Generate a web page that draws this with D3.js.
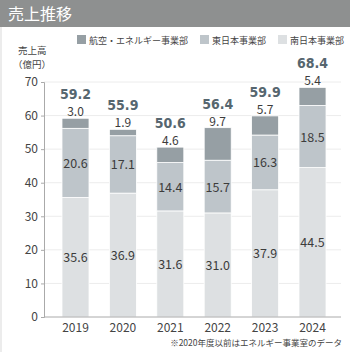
<!DOCTYPE html>
<html>
<head>
<meta charset="utf-8">
<script src="https://cdn.jsdelivr.net/npm/d3@7"></script>
<style>
  body { margin: 0; background: #fff; }
  svg text { font-family: "Noto Sans CJK JP", "Noto Sans", sans-serif; }
</style>
</head>
<body>
<div id="chart"></div>
<script>
// data
const years = ["2019", "2020", "2021", "2022", "2023", "2024"];
const south = [35.6, 36.9, 31.6, 31.0, 37.9, 44.5];   // 南日本事業部
const east = [20.6, 17.1, 14.4, 15.7, 16.3, 18.5];    // 東日本事業部
const aviation = [3.0, 1.9, 4.6, 9.7, 5.7, 5.4];      // 航空・エネルギー事業部
const totals = [59.2, 55.9, 50.6, 56.4, 59.9, 68.4];
const seriesNames = ["航空・エネルギー事業部", "東日本事業部", "南日本事業部"];
const yTicks = [0, 10, 20, 30, 40, 50, 60, 70];

const W = 350, H = 352, M = {t: 82, r: 10, b: 35, l: 44};
const svg = d3.select("#chart").append("svg")
  .attr("width", W)
  .attr("height", H);

// title bar
svg.append("rect").attr("x", 0).attr("y", 0).attr("width", W).attr("height", 27).attr("fill", "#8e9090");
svg.append("text").attr("x", 8).attr("y", 20).attr("fill", "#fff")
  .attr("font-size", 16).text("売上推移");
// left border
svg.append("rect").attr("x", 0).attr("y", 27).attr("width", 2).attr("height", H - 27).attr("fill", "#ececec");

const rows = years.map((y, i) => ({year: y, south: south[i], east: east[i], aviation: aviation[i], total: totals[i]}));
const keys = ["south", "east", "aviation"];
const color = d3.scaleOrdinal().domain(keys).range(["#dde0e2", "#bec5ca", "#969fa4"]);

const x = d3.scaleBand().domain(years).range([48, 340]).paddingInner(0.43).paddingOuter(0.295);
const y = d3.scaleLinear().domain([0, 70]).range([H - M.b, M.t]);

// gridlines
svg.append("g").selectAll("line").data(yTicks.slice(1)).join("line")
  .attr("x1", M.l).attr("x2", W - 9)
  .attr("y1", d => y(d)).attr("y2", d => y(d))
  .attr("stroke", "#ececec").attr("stroke-width", 1);

const stack = d3.stack().keys(keys)(rows);
svg.append("g").selectAll("g").data(stack).join("g")
  .attr("fill", d => color(d.key))
  .selectAll("rect").data(d => d).join("rect")
  .attr("x", d => x(d.data.year))
  .attr("width", x.bandwidth())
  .attr("y", d => y(d[1]))
  .attr("height", d => y(d[0]) - y(d[1]))
  .attr("stroke", "#fff").attr("stroke-width", 0.8);

// segment labels (inside for south/east)
["south", "east"].forEach((k, ki) => {
  svg.append("g").selectAll("text").data(stack[ki]).join("text")
    .attr("x", d => x(d.data.year) + x.bandwidth() / 2)
    .attr("y", d => y((d[0] + d[1]) / 2) + 5)
    .attr("text-anchor", "middle").attr("font-size", 12.5).attr("fill", "#3c3c3c")
    .text(d => d.data[k].toFixed(1));
});
// aviation label above the bar
svg.append("g").selectAll("text").data(stack[2]).join("text")
  .attr("x", d => x(d.data.year) + x.bandwidth() / 2)
  .attr("y", d => y(d[1]) - 2)
  .attr("text-anchor", "middle").attr("font-size", 12).attr("fill", "#3c3c3c")
  .text(d => d.data.aviation.toFixed(1));
// totals
svg.append("g").selectAll("text").data(rows).join("text")
  .attr("x", d => x(d.year) + x.bandwidth() / 2)
  .attr("y", d => y(d.total) - 19)
  .attr("text-anchor", "middle").attr("font-size", 14).attr("font-weight", "bold")
  .attr("fill", "#56666f")
  .style("font-family", "'DejaVu Sans Condensed', 'Liberation Sans Narrow', sans-serif")
  .style("font-stretch", "condensed")
  .text(d => d.total.toFixed(1));

// axes
const yAxis = svg.append("g").attr("transform", `translate(${M.l},0)`)
  .call(d3.axisLeft(y).tickValues(yTicks).tickSize(3).tickPadding(3));
yAxis.selectAll("text").attr("font-size", 12).attr("fill", "#444");
yAxis.selectAll("line, path").attr("stroke", "#aaa");

const xAxis = svg.append("g").attr("transform", `translate(0,${H - M.b})`)
  .call(d3.axisBottom(x).tickSize(0).tickPadding(6));
xAxis.select(".domain").attr("d", `M${M.l},0H${W - 9}`).attr("stroke", "#aaa");
xAxis.selectAll("text").attr("font-size", 12).attr("fill", "#444");

// y label
svg.append("text").attr("x", 18).attr("y", 54).attr("font-size", 9.5).attr("fill", "#444").text("売上高");
svg.append("text").attr("x", 13).attr("y", 68).attr("font-size", 9.5).attr("fill", "#444").text("（億円）");

// legend
const legendX = [77, 200, 278];
const legendKeys = ["aviation", "east", "south"];
const lg = svg.append("g").selectAll("g").data(seriesNames).join("g")
  .attr("transform", (d, i) => `translate(${legendX[i]},35)`);
lg.append("rect").attr("width", 9).attr("height", 9).attr("fill", (d, i) => color(legendKeys[i]));
lg.append("text").attr("x", 12).attr("y", 8.5).attr("font-size", 9).attr("fill", "#444").text(d => d);

// footnote
svg.append("text").attr("x", 342).attr("y", 346).attr("text-anchor", "end")
  .attr("font-size", 8.5).attr("fill", "#444").text("※2020年度以前はエネルギー事業室のデータ");
</script>
</body>
</html>
